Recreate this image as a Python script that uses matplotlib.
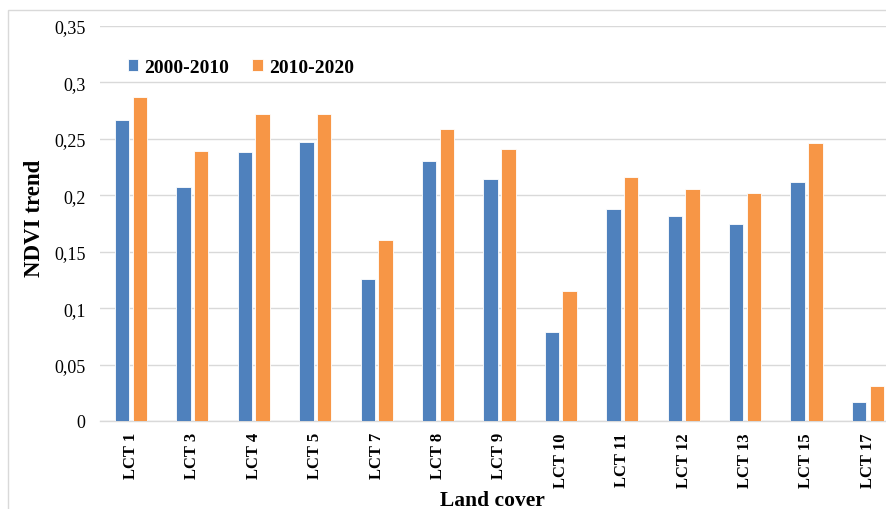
import matplotlib.pyplot as plt
import matplotlib.patches as mpatches
import numpy as np

categories = ["LCT 1", "LCT 3", "LCT 4", "LCT 5", "LCT 7", "LCT 8", "LCT 9",
              "LCT 10", "LCT 11", "LCT 12", "LCT 13", "LCT 15", "LCT 17"]
series_2000_2010 = [0.267, 0.207, 0.238, 0.247, 0.126, 0.230, 0.214,
                    0.079, 0.188, 0.182, 0.175, 0.212, 0.017]
series_2010_2020 = [0.287, 0.239, 0.272, 0.272, 0.160, 0.259, 0.241,
                    0.115, 0.216, 0.206, 0.202, 0.246, 0.031]
yticks = [0, 0.05, 0.1, 0.15, 0.2, 0.25, 0.3, 0.35]
ytick_labels = ["0", "0,05", "0,1", "0,15", "0,2", "0,25", "0,3", "0,35"]

plt.rcParams['font.family'] = ['Liberation Serif', 'DejaVu Serif']

W, H = 886, 510
fig = plt.figure(figsize=(W / 100, H / 100), dpi=100)

# outer chart frame
fig.patches.append(mpatches.Rectangle((8 / W, -0.1), 1.2, 1 - 11 / H + 0.1,
                                      transform=fig.transFigure, fill=False,
                                      edgecolor='#d9d9d9', linewidth=1.0))

left = 100.3 / W
width = 798.3 / W
bottom = 1 - 422 / H
top = 1 - 27 / H
ax = fig.add_axes([left, bottom, width, top - bottom])

x = np.arange(len(categories))
bw = 0.235
off = 0.144
ax.bar(x - off, series_2000_2010, bw, color='#4f81bd', edgecolor='white',
       linewidth=0.6, label='2000-2010', zorder=3)
ax.bar(x + off, series_2010_2020, bw, color='#f79646', edgecolor='white',
       linewidth=0.6, label='2010-2020', zorder=3)

ax.set_xlim(-0.5, len(categories) - 0.5)
ax.set_ylim(0, 0.35)
ax.set_yticks(yticks)
ax.set_yticklabels(ytick_labels, fontsize=13)
ax.set_xticks(x)
ax.set_xticklabels(categories, rotation=90, fontsize=12, fontweight='bold')
ax.tick_params(axis='both', length=0)
ax.tick_params(axis='y', pad=10.5)
ax.tick_params(axis='x', pad=8)
ax.grid(axis='y', color='#d9d9d9', linewidth=1.0, zorder=0)
for s in ['top', 'right', 'left']:
    ax.spines[s].set_visible(False)
ax.spines['bottom'].set_color('#d9d9d9')
ax.spines['bottom'].set_linewidth(1.0)

fig.text(35 / W, 1 - 218 / H, 'NDVI trend', rotation=90, fontsize=16.5,
         fontweight='bold', ha='center', va='center')
fig.text(492 / W, 1 - 501 / H, 'Land cover', fontsize=15.5,
         fontweight='bold', ha='center', va='center')

leg = ax.legend(loc='upper left', bbox_to_anchor=(118 / W, 1 - 50 / H),
                bbox_transform=fig.transFigure, ncol=2, frameon=False,
                prop={'weight': 'bold', 'size': 14},
                handlelength=0.55, handleheight=0.55, handletextpad=0.3,
                columnspacing=1.2, borderpad=0)

fig.savefig('out.png', dpi=100)
